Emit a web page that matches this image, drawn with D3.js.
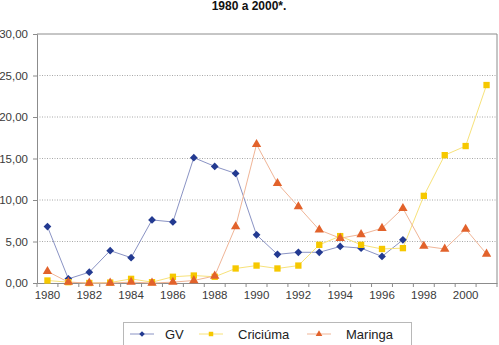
<!DOCTYPE html>
<html>
<head>
<meta charset="utf-8">
<script src="https://cdn.jsdelivr.net/npm/d3@7"></script>
<style>
  body { margin: 0; background: #fff; }
  svg { display: block; font-family: "Liberation Sans", Arial, sans-serif; }
</style>
</head>
<body>
<svg id="chart" width="499" height="345"></svg>
<script>
// years on the x axis
const years = d3.range(1980, 2002);
const yearLabels = ['1980', '1982', '1984', '1986', '1988', '1990', '1992', '1994', '1996', '1998', '2000'];
const yTicks = [0, 5, 10, 15, 20, 25, 30];

// series values
const gv = [6.8, 0.5, 1.3, 3.9, 3.05, 7.6, 7.35, 15.1, 14.05, 13.2, 5.8, 3.45, 3.7, 3.7, 4.4, 4.2, 3.2, 5.2, null, null, null, null];
const criciuma = [0.3, 0.1, 0.0, 0.05, 0.5, 0.1, 0.75, 0.9, 0.75, 1.75, 2.1, 1.75, 2.1, 4.6, 5.65, 4.6, 4.1, 4.2, 10.5, 15.4, 16.5, 23.85];
const maringa = [1.4, 0.1, 0.0, 0.0, 0.1, 0.0, 0.1, 0.3, 0.85, 6.8, 16.7, 12.0, 9.2, 6.4, 5.4, 5.85, 6.6, 9.0, 4.45, 4.1, 6.5, 3.5];

const series = [
    { name: 'GV', values: gv, marker: '#233a91', line: '#8a93c4', symbol: d3.symbolSquare, size: 30, rot: 45 },
    { name: 'Criciúma', values: criciuma, marker: '#f6c800', line: '#f7e27a', symbol: d3.symbolSquare, size: 40, rot: 0 },
    { name: 'Maringa', values: maringa, marker: '#e2622b', line: '#f0b597', symbol: d3.symbolTriangle, size: 38, rot: 0 }
];

const svg = d3.select('#chart');
const plotLeft = 37, plotRight = 497, plotTop = 34, plotBottom = 283;

const x = d3.scaleBand().domain(years).range([plotLeft, plotRight]);
const y = d3.scaleLinear().domain([0, 30]).range([plotBottom, plotTop]);

// title
svg.append('text')
    .attr('x', 249).attr('y', 10)
    .attr('text-anchor', 'middle')
    .style('font-size', '12px').style('font-weight', 'bold').style('fill', '#111')
    .text('1980 a 2000*.');

// dotted grid lines
svg.append('g')
    .selectAll('line')
    .data(yTicks.filter(d => d > 0 && d < 30))
    .join('line')
    .attr('x1', plotLeft).attr('x2', plotRight)
    .attr('y1', d => y(d)).attr('y2', d => y(d))
    .style('stroke', '#a8a8a8').style('stroke-width', 1).style('stroke-dasharray', '1,1.5');

// frame top + right
svg.append('path')
    .attr('d', `M${plotLeft},${y(30)}H${plotRight}V${plotBottom}`)
    .style('fill', 'none').style('stroke', '#8c8c8c');

// y axis
const yAxis = svg.append('g')
    .attr('transform', `translate(${plotLeft},0)`)
    .call(d3.axisLeft(y).tickValues(yTicks).tickSize(4).tickPadding(5)
        .tickFormat(d => d3.format('.2f')(d).replace('.', ',')));

// x axis, ticks on band boundaries
const xAxis = svg.append('g')
    .attr('transform', `translate(0,${plotBottom})`)
    .call(d3.axisBottom(x).tickSize(0).tickPadding(8)
        .tickFormat(d => yearLabels.includes(String(d)) ? d : ''));
xAxis.selectAll('.bnd')
    .data(years.concat([2002]))
    .join('line')
    .attr('class', 'bnd')
    .attr('x1', (d, i) => plotLeft + i * x.step()).attr('x2', (d, i) => plotLeft + i * x.step())
    .attr('y1', 0).attr('y2', 4)
    .style('stroke', '#8c8c8c');

[yAxis, xAxis].forEach(g => {
    g.select('.domain').style('stroke', '#8c8c8c');
    g.selectAll('.tick line').style('stroke', '#8c8c8c');
    g.selectAll('text').style('font-size', '11.5px').style('fill', '#3a3a3a')
        .style('font-family', '"Liberation Sans", Arial, sans-serif');
});

const cx = i => x(years[i]) + x.bandwidth() / 2;

series.forEach(s => {
    const line = d3.line()
        .defined(d => d != null)
        .x((d, i) => cx(i))
        .y(d => y(d));
    svg.append('path')
        .datum(s.values)
        .attr('d', line)
        .style('fill', 'none').style('stroke', s.line).style('stroke-width', 1);
});

series.forEach(s => {
    svg.append('g')
        .selectAll('path')
        .data(s.values.map((v, i) => ({ v, i })).filter(d => d.v != null))
        .join('path')
        .attr('transform', d => `translate(${cx(d.i)},${y(d.v)}) rotate(${s.rot})`)
        .attr('d', d3.symbol().type(s.symbol).size(s.size))
        .style('fill', s.marker);
});

// legend
const legend = svg.append('g');
legend.append('rect')
    .attr('x', 123.5).attr('y', 322.5).attr('width', 288).attr('height', 30)
    .style('fill', '#fff').style('stroke', '#b8b8b8');
const legendX = [130, 199, 307];
series.forEach((s, i) => {
    const g = legend.append('g').attr('transform', `translate(${legendX[i]},334)`);
    g.append('line').attr('x1', 0).attr('x2', 24).attr('y1', 0).attr('y2', 0)
        .style('stroke', s.line).style('stroke-width', 1);
    g.append('path').attr('transform', `translate(12,0) rotate(${s.rot})`)
        .attr('d', d3.symbol().type(s.symbol).size(s.size * 0.5))
        .style('fill', s.marker);
    g.append('text').attr('x', i === 0 ? 35 : 39).attr('y', 4.5)
        .style('font-size', '13px').style('fill', '#222')
        .text(s.name);
});
</script>
</body>
</html>
